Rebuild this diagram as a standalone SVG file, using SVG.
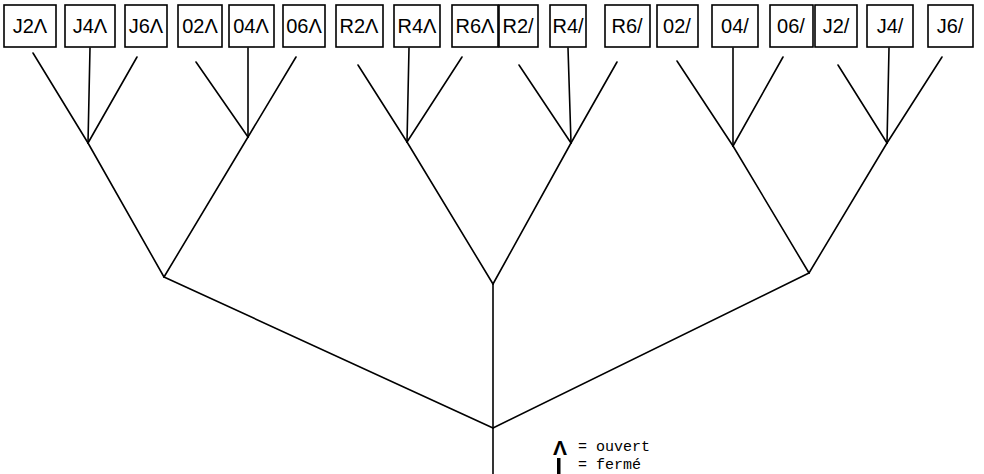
<svg xmlns="http://www.w3.org/2000/svg" width="984" height="474" viewBox="0 0 984 474">
<style>
.box{fill:none;stroke:#000;stroke-width:1.6}
.lbl{font-family:"Liberation Sans","DejaVu Sans",sans-serif;font-size:20px;fill:#000;text-anchor:middle}
.cn line{stroke:#000;stroke-width:1.6;stroke-linecap:round}
.leg{font-family:"Liberation Mono","DejaVu Sans Mono",monospace;font-size:15px;fill:#000}
.sym{font-family:"Liberation Sans","DejaVu Sans",sans-serif;font-size:21px;font-weight:bold;fill:#000}
</style>
<rect width="984" height="474" fill="#fff"/>
<g id="n1"><rect class="box" x="4" y="5" width="52" height="42"/><text class="lbl" x="30" y="33">J2Λ</text></g>
<g id="n2"><rect class="box" x="65" y="5" width="50" height="42"/><text class="lbl" x="90" y="33">J4Λ</text></g>
<g id="n3"><rect class="box" x="125" y="5" width="42" height="42"/><text class="lbl" x="146" y="33">J6Λ</text></g>
<g id="n4"><rect class="box" x="178" y="5" width="44" height="42"/><text class="lbl" x="200" y="33">02Λ</text></g>
<g id="n5"><rect class="box" x="229" y="5" width="45" height="42"/><text class="lbl" x="251" y="33">04Λ</text></g>
<g id="n6"><rect class="box" x="283" y="5" width="42" height="42"/><text class="lbl" x="304" y="33">06Λ</text></g>
<g id="n7"><rect class="box" x="336" y="5" width="47" height="42"/><text class="lbl" x="359" y="33">R2Λ</text></g>
<g id="n8"><rect class="box" x="394" y="5" width="46" height="42"/><text class="lbl" x="417" y="33">R4Λ</text></g>
<g id="n9"><rect class="box" x="452" y="5" width="46" height="42"/><text class="lbl" x="475" y="33">R6Λ</text></g>
<g id="n10"><rect class="box" x="499" y="5" width="39" height="42"/><text class="lbl" x="518" y="33">R2/</text></g>
<g id="n11"><rect class="box" x="550" y="5" width="36" height="42"/><text class="lbl" x="568" y="33">R4/</text></g>
<g id="n12"><rect class="box" x="605" y="5" width="45" height="42"/><text class="lbl" x="627" y="33">R6/</text></g>
<g id="n13"><rect class="box" x="657" y="5" width="41" height="42"/><text class="lbl" x="677" y="33">02/</text></g>
<g id="n14"><rect class="box" x="712" y="5" width="46" height="42"/><text class="lbl" x="735" y="33">04/</text></g>
<g id="n15"><rect class="box" x="770" y="5" width="43" height="42"/><text class="lbl" x="791" y="33">06/</text></g>
<g id="n16"><rect class="box" x="815" y="5" width="42" height="42"/><text class="lbl" x="836" y="33">J2/</text></g>
<g id="n17"><rect class="box" x="867" y="5" width="46" height="42"/><text class="lbl" x="890" y="33">J4/</text></g>
<g id="n18"><rect class="box" x="928" y="5" width="45" height="42"/><text class="lbl" x="950" y="33">J6/</text></g>
<g id="connectors" class="cn">
<line x1="33" y1="53" x2="88" y2="143"/><line x1="90" y1="48" x2="88" y2="143"/><line x1="137" y1="57" x2="88" y2="143"/>
<line x1="196" y1="62" x2="248" y2="137"/><line x1="248" y1="48" x2="248" y2="137"/><line x1="296" y1="57" x2="248" y2="137"/>
<line x1="358" y1="65" x2="407" y2="142"/><line x1="409" y1="48" x2="407" y2="142"/><line x1="462" y1="57" x2="407" y2="142"/>
<line x1="519" y1="65" x2="571" y2="143"/><line x1="568" y1="48" x2="571" y2="143"/><line x1="617" y1="62" x2="571" y2="143"/>
<line x1="677" y1="61" x2="733" y2="146"/><line x1="733" y1="48" x2="733" y2="146"/><line x1="783" y1="57" x2="733" y2="146"/>
<line x1="838" y1="65" x2="887" y2="143"/><line x1="889" y1="48" x2="887" y2="143"/><line x1="942" y1="57" x2="887" y2="143"/>
<line x1="88" y1="143" x2="164" y2="277"/><line x1="248" y1="137" x2="164" y2="277"/>
<line x1="407" y1="142" x2="493" y2="284"/><line x1="571" y1="143" x2="493" y2="284"/>
<line x1="733" y1="146" x2="809" y2="273"/><line x1="887" y1="143" x2="809" y2="273"/>
<line x1="164" y1="277" x2="493" y2="428"/><line x1="809" y1="273" x2="493" y2="428"/>
<line x1="493" y1="284" x2="493" y2="474"/>
</g>
<g id="legend">
<text class="sym" x="553" y="455">Λ</text><text class="leg" x="578" y="451">= ouvert</text>
<rect x="557" y="458" width="3.5" height="16" fill="#000"/><text class="leg" x="578" y="469">= fermé</text>
</g>
</svg>
